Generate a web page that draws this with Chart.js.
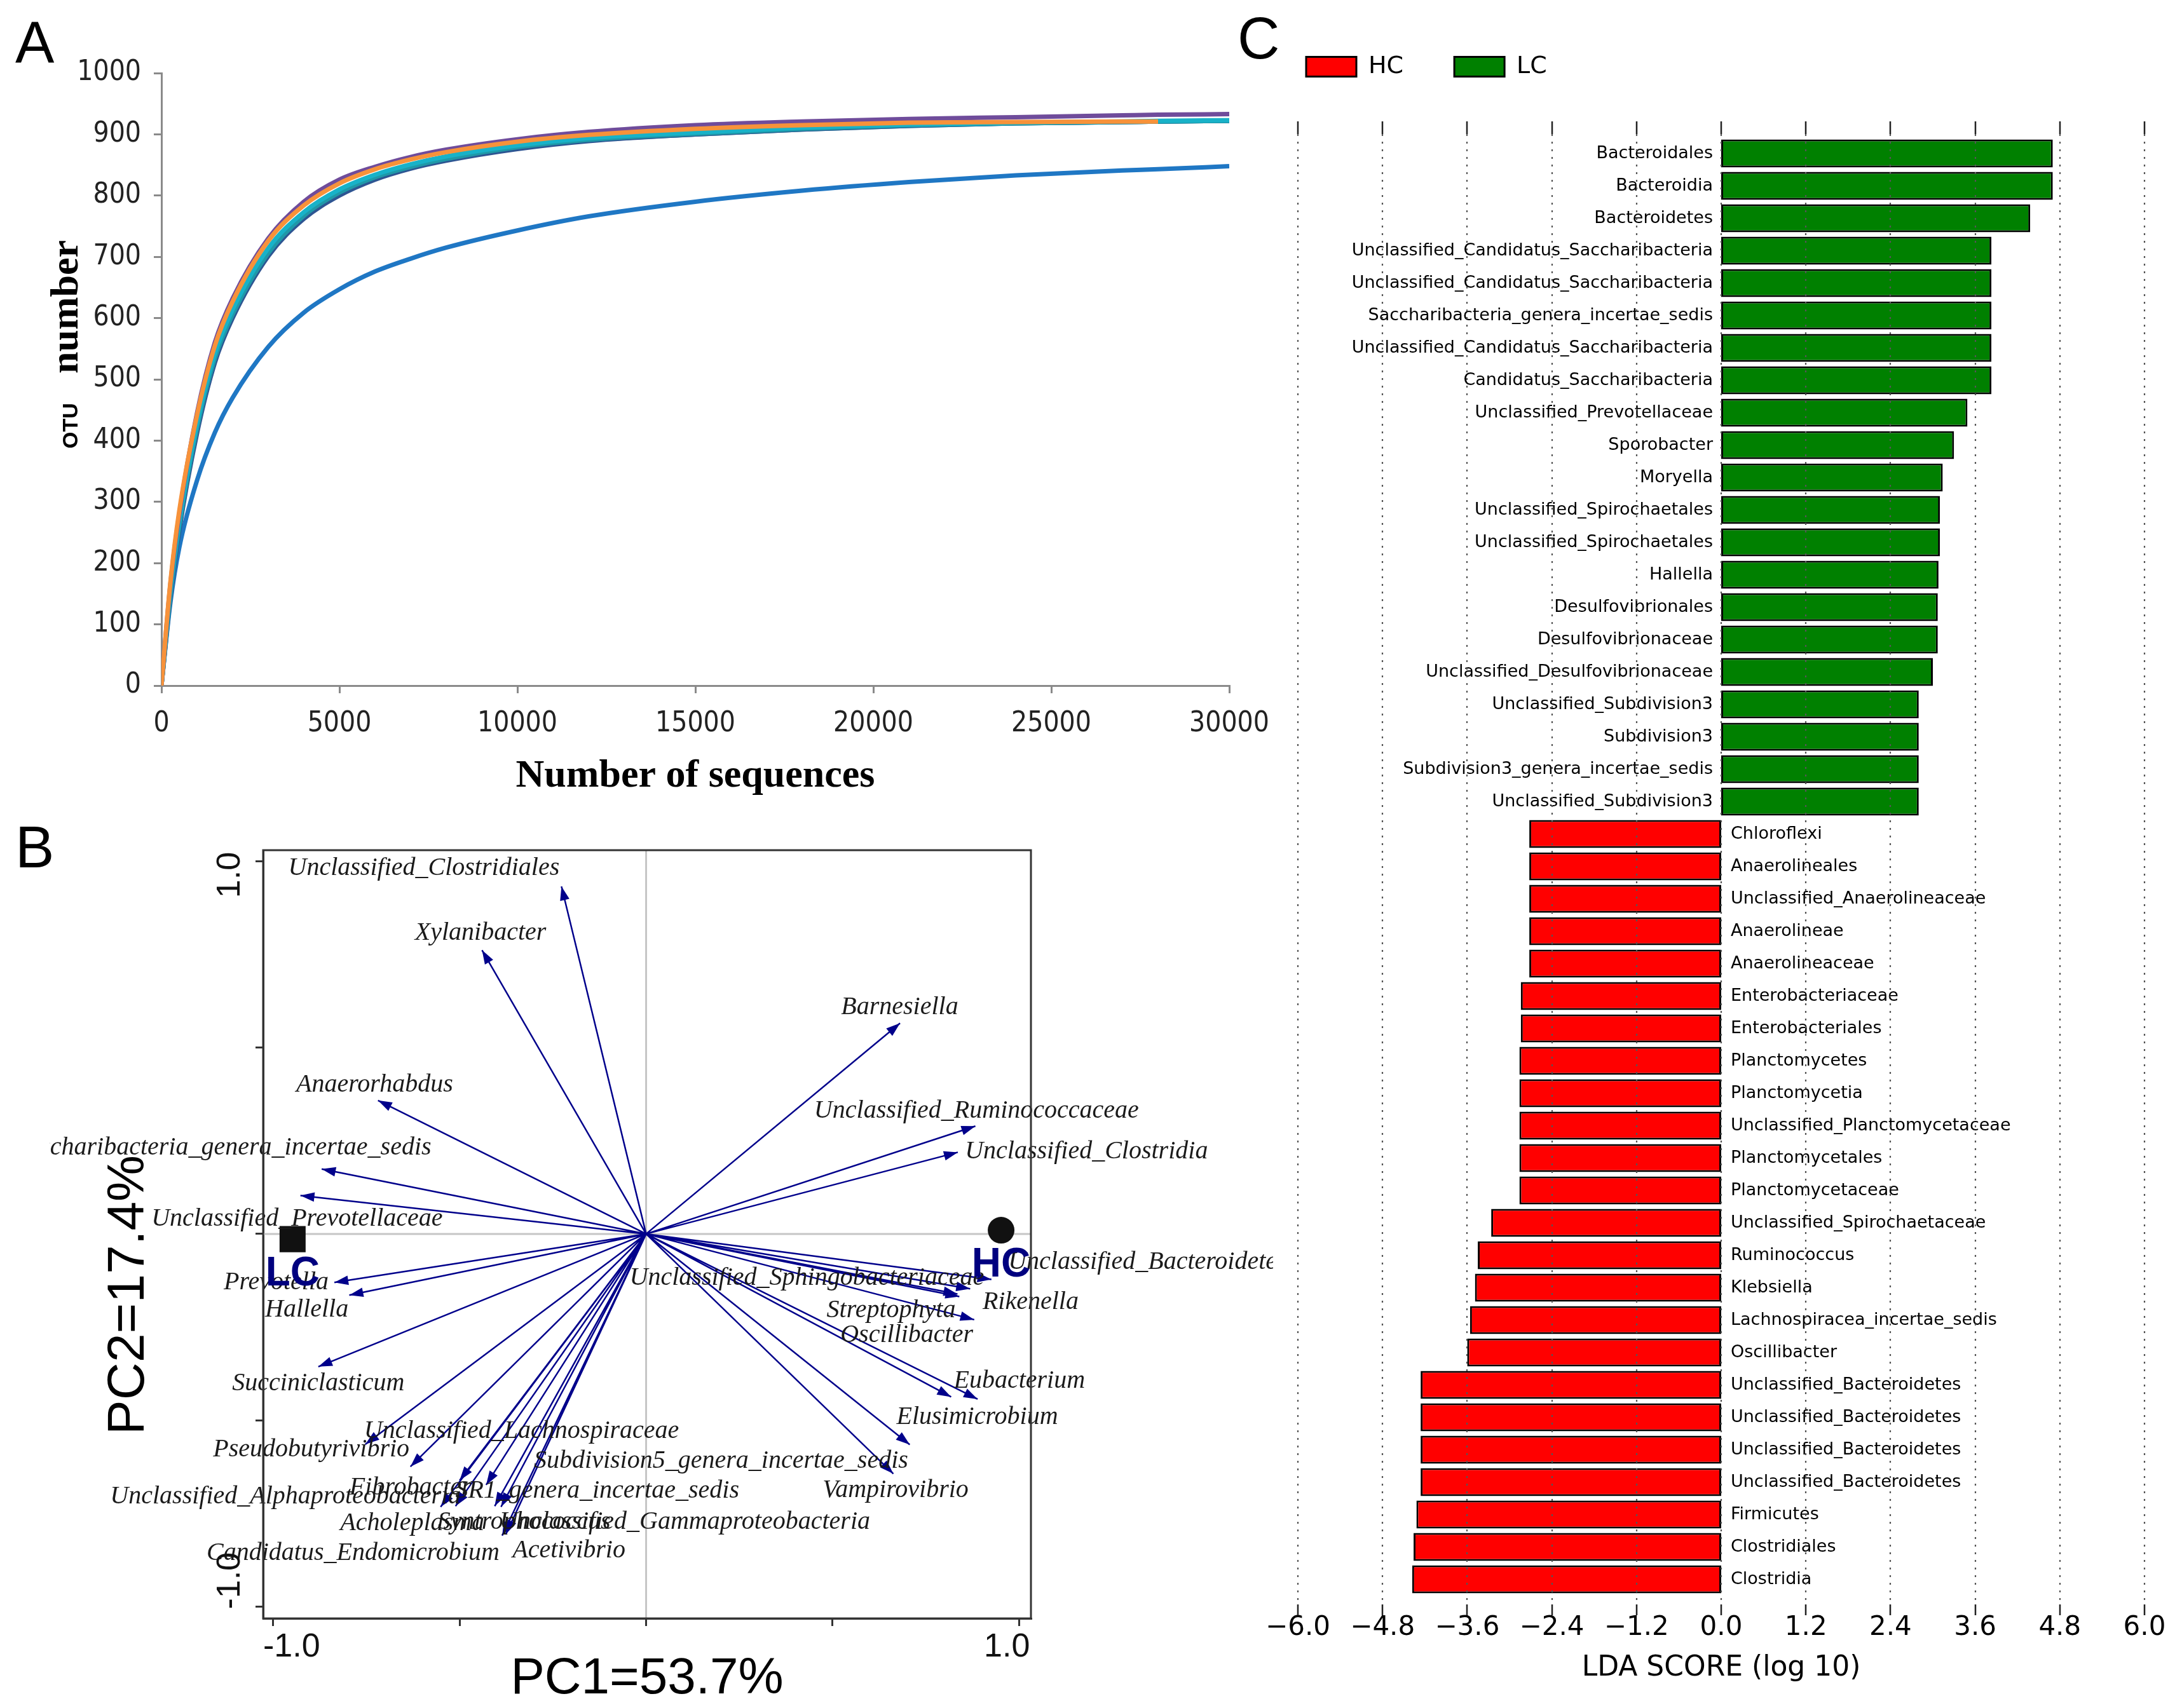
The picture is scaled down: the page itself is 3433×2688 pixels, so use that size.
<!DOCTYPE html>
<html><head><meta charset="utf-8">
<script src="https://cdn.jsdelivr.net/npm/chart.js@4.4.1/dist/chart.umd.min.js"></script>
<style>
html,body{margin:0;padding:0;background:#fff;}
body{width:3433px;height:2688px;position:relative;overflow:hidden;}
canvas{position:absolute;}
.plab{position:absolute;font-family:"Liberation Sans",Arial,sans-serif;font-size:92px;line-height:1;color:#000;}
</style></head><body>
<div class="plab" style="left:24px;top:21px">A</div>
<div class="plab" style="left:24px;top:1287px">B</div>
<div class="plab" style="left:1947px;top:14px">C</div>
<canvas id="cA" width="2030" height="1290" style="left:0;top:0"></canvas>
<canvas id="cB" width="1925" height="1398" style="left:78px;top:1290px"></canvas>
<canvas id="cC" width="1458" height="2688" style="left:1975px;top:0"></canvas>
<script>
// ---------------- Panel A data: rarefaction curves ----------------
const seqDepth = [0,250,500,1000,1500,2000,3000,4000,5000,6000,7000,8000,10000,12000,15000,18000,21000,24000,27000,28000,30000];
const otuOrange = [0,168,285,442,555,627,726,784,820,843,859,871,888,899,909,915,919,920,921,921,null];
const otuPurple = [0,165,280,445,560,632,730,790,826,847,863,875,892,904,915,921,925,928,931,932,933];
const otuCyan   = [0,155,268,428,542,614,714,773,810,834,851,864,882,894,903,911,916,919,921,922,923];
const otuTeal   = [0,148,260,420,534,606,706,767,805,830,847,860,879,891,901,909,915,918,920,921,922];
const otuNavy   = [0,142,253,412,527,600,701,762,800,826,844,857,876,889,900,908,914,918,920,921,922];
const otuTeal2  = [0,145,256,416,530,603,703,764,802,828,845,858,877,890,900,908,914,918,920,921,922];
const otuBlue   = [0,135,225,335,413,470,553,609,647,676,697,715,743,766,790,808,822,833,841,843,848];

// ---------------- Panel B data: PCA biplot ----------------
const taxaB = ['Unclassified_Clostridiales','Xylanibacter','Barnesiella','Anaerorhabdus','Unclassified_Ruminococcaceae',
 'Unclassified_Clostridia','Saccharibacteria_genera_incertae_sedis','Unclassified_Prevotellaceae','Prevotella','Hallella',
 'Succiniclasticum','Pseudobutyrivibrio','Unclassified_Lachnospiraceae','Fibrobacter','Unclassified_Alphaproteobacteria',
 'SR1_genera_incertae_sedis','Acholeplasma','Syntrophococcus','Unclassified_Gammaproteobacteria','Candidatus_Endomicrobium',
 'Acetivibrio','Subdivision5_genera_incertae_sedis','Vampirovibrio','Eubacterium','Elusimicrobium',
 'Streptophyta','Oscillibacter','Rikenella','Unclassified_Sphingobacteriaceae','Unclassified_Bacteroidetes'];
const pc1 = [-0.227,-0.440,0.681,-0.719,0.883, 0.836,-0.870,-0.927,-0.836,-0.796, -0.879,-0.753,-0.632,-0.500,-0.551,
 -0.429,-0.511,-0.406,-0.389,-0.386, -0.376,0.707,0.663,0.889,0.818, 0.880,0.840,0.869,0.835,0.926];
const pc2 = [0.932,0.761,0.565,0.358,0.289, 0.219,0.174,0.103,-0.130,-0.164, -0.356,-0.564,-0.624,-0.661,-0.732,
 -0.673,-0.730,-0.730,-0.732,-0.809, -0.805,-0.565,-0.643,-0.443,-0.437, -0.230,-0.168,-0.147,-0.161,-0.122];
const groupsB = ['LC','HC'];
const groupPC1 = [-0.948, 0.952];
const groupPC2 = [-0.014, 0.010];
// label anchor (in axis units) and alignment, presentation only
const labelAnchorB = [[-0.596,0.980,'center'],[-0.444,0.807,'center'],[0.680,0.608,'center'],[-0.728,0.400,'center'],[0.886,0.330,'center'],
 [0.855,0.220,'left'],[-0.576,0.231,'right'],[-0.936,0.040,'center'],[-0.992,-0.130,'center'],[-0.910,-0.204,'center'],
 [-0.879,-0.402,'center'],[-0.898,-0.578,'center'],[-0.334,-0.530,'center'],[-0.632,-0.680,'center'],[-0.967,-0.704,'center'],
 [-0.131,-0.690,'center'],[-0.627,-0.777,'center'],[-0.327,-0.772,'center'],[0.104,-0.772,'center'],[-0.786,-0.856,'center'],
 [-0.207,-0.849,'center'],[0.201,-0.610,'center'],[0.669,-0.687,'center'],[1.001,-0.394,'center'],[0.888,-0.491,'center'],
 [0.657,-0.206,'center'],[0.699,-0.272,'center'],[1.031,-0.184,'center'],[0.431,-0.119,'center'],[0.971,-0.076,'left']];

// ---------------- Panel C data: LEfSe LDA scores ----------------
const ldaTaxa = ['Bacteroidales','Bacteroidia','Bacteroidetes','Unclassified_Candidatus_Saccharibacteria','Unclassified_Candidatus_Saccharibacteria',
 'Saccharibacteria_genera_incertae_sedis','Unclassified_Candidatus_Saccharibacteria','Candidatus_Saccharibacteria','Unclassified_Prevotellaceae','Sporobacter',
 'Moryella','Unclassified_Spirochaetales','Unclassified_Spirochaetales','Hallella','Desulfovibrionales',
 'Desulfovibrionaceae','Unclassified_Desulfovibrionaceae','Unclassified_Subdivision3','Subdivision3','Subdivision3_genera_incertae_sedis',
 'Unclassified_Subdivision3','Chloroflexi','Anaerolineales','Unclassified_Anaerolineaceae','Anaerolineae',
 'Anaerolineaceae','Enterobacteriaceae','Enterobacteriales','Planctomycetes','Planctomycetia',
 'Unclassified_Planctomycetaceae','Planctomycetales','Planctomycetaceae','Unclassified_Spirochaetaceae','Ruminococcus',
 'Klebsiella','Lachnospiracea_incertae_sedis','Oscillibacter','Unclassified_Bacteroidetes','Unclassified_Bacteroidetes',
 'Unclassified_Bacteroidetes','Unclassified_Bacteroidetes','Firmicutes','Clostridiales','Clostridia'];
const ldaLC = [4.70,4.70,4.38,3.83,3.83,3.83,3.83,3.83,3.49,3.30,3.14,3.10,3.10,3.08,3.07,3.07,3.00,2.80,2.80,2.80,2.80,
 null,null,null,null,null,null,null,null,null,null,null,null,null,null,null,null,null,null,null,null,null,null,null,null];
const ldaHC = [null,null,null,null,null,null,null,null,null,null,null,null,null,null,null,null,null,null,null,null,null,
 -2.72,-2.72,-2.72,-2.72,-2.72,-2.84,-2.84,-2.86,-2.86,-2.86,-2.86,-2.86,-3.26,-3.45,-3.49,-3.56,-3.60,-4.26,-4.26,-4.26,-4.26,-4.32,-4.36,-4.38];

// ================= Panel A =================
const narrow = '"Liberation Sans Narrow","DejaVu Sans Condensed","Liberation Sans",sans-serif';
const curvesA = [
  {name:'S1', vals:otuOrange, color:'#f7923a'},
  {name:'S2', vals:otuPurple, color:'#6f4c9b'},
  {name:'S3', vals:otuCyan,   color:'#18b2c8'},
  {name:'S4', vals:otuTeal,   color:'#1f98a8'},
  {name:'S5', vals:otuNavy,   color:'#2e5592'},
  {name:'S6', vals:otuTeal2,  color:'#238a9a'},
  {name:'S7', vals:otuBlue,   color:'#1f77c4'}
];
const otuTitle = {id:'otuTitle', afterDraw(chart){
  const {ctx, chartArea:a} = chart;
  ctx.save();
  ctx.translate(a.left - 132, a.top + 591);
  ctx.rotate(-Math.PI/2);
  ctx.fillStyle = '#000'; ctx.textAlign = 'left'; ctx.textBaseline = 'alphabetic';
  ctx.font = 'bold 34px "Liberation Sans"';
  ctx.fillText('OTU', 0, 0);
  ctx.font = 'bold 62px "Liberation Serif"';
  ctx.fillText('number', 118, 0);
  ctx.restore();
}};
const axisGray = '#8a8a8a';
new Chart(document.getElementById('cA'), {
  type:'line',
  data:{datasets: curvesA.map(c => ({
    label:c.name,
    data: seqDepth.map((d,i) => ({x:d, y:c.vals[i]})),
    borderColor:c.color, backgroundColor:c.color, borderWidth:7, pointRadius:0,
    cubicInterpolationMode:'monotone', spanGaps:false, fill:false
  }))},
  options:{
    responsive:false, animation:false, devicePixelRatio:1,
    layout:{padding:{left:0, top:115, right:96, bottom:0}},
    plugins:{legend:{display:false}, tooltip:{enabled:false}},
    scales:{
      x:{type:'linear', min:0, max:30000,
        ticks:{stepSize:5000, autoSkip:false, maxRotation:0, padding:22, color:'#222', font:{family:narrow, size:44}, callback:v=>String(v)},
        grid:{drawOnChartArea:false, drawTicks:true, tickLength:12, color:axisGray, lineWidth:3},
        border:{display:true, color:axisGray, width:3},
        title:{display:true, text:'Number of sequences', color:'#000', font:{family:'"Liberation Serif",serif', weight:'bold', size:62, lineHeight:1}, padding:{top:0, bottom:37}},
        afterFit(s){ s.height = 211; }
      },
      y:{type:'linear', min:0, max:1000,
        ticks:{stepSize:100, padding:20, color:'#222', font:{family:narrow, size:44}, callback:v=>String(v)},
        grid:{drawOnChartArea:false, drawTicks:true, tickLength:12, color:axisGray, lineWidth:3},
        border:{display:true, color:axisGray, width:3},
        afterFit(s){ s.width = 254; }
      }
    }
  },
  plugins:[otuTitle]
});

// ================= Panel B =================
const arrowColor = '#00008b';
const shaftPts = [];
pc1.forEach((v,i) => { shaftPts.push({x:0,y:0}, {x:v, y:pc2[i]}, {x:0, y:null}); });
const biplotDecor = {
  id:'biplotDecor',
  beforeDatasetsDraw(chart){
    const {ctx, chartArea:a, scales:{x,y}} = chart;
    const x0 = x.getPixelForValue(0), y0 = y.getPixelForValue(0);
    ctx.save();
    ctx.strokeStyle = '#c6c6c6'; ctx.lineWidth = 3;
    ctx.beginPath();
    ctx.moveTo(x0, a.top); ctx.lineTo(x0, a.bottom);
    ctx.moveTo(a.left, y0); ctx.lineTo(a.right, y0);
    ctx.stroke();
    ctx.restore();
  },
  afterDatasetsDraw(chart){
    const {ctx, chartArea:a, scales:{x,y}} = chart;
    const ox = x.getPixelForValue(0), oy = y.getPixelForValue(0);
    ctx.save();
    // arrowheads
    ctx.fillStyle = arrowColor;
    pc1.forEach((v,i) => {
      const px = x.getPixelForValue(v), py = y.getPixelForValue(pc2[i]);
      const th = Math.atan2(py-oy, px-ox), L = 22, W = 7.5;
      const bx = px - L*Math.cos(th), by = py - L*Math.sin(th);
      ctx.beginPath();
      ctx.moveTo(px, py);
      ctx.lineTo(bx - W*Math.sin(th), by + W*Math.cos(th));
      ctx.lineTo(bx + W*Math.sin(th), by - W*Math.cos(th));
      ctx.closePath(); ctx.fill();
    });
    // taxa labels
    ctx.font = 'italic 40px "Liberation Serif"';
    ctx.fillStyle = '#1a1a1a'; ctx.textBaseline = 'middle';
    taxaB.forEach((t,i) => {
      const [lx, ly, al] = labelAnchorB[i];
      ctx.textAlign = al;
      ctx.fillText(t, x.getPixelForValue(lx), y.getPixelForValue(ly));
    });
    // group labels
    ctx.font = 'bold 64px "Liberation Sans"';
    ctx.fillStyle = '#00007f'; ctx.textAlign = 'center';
    groupsB.forEach((g,i) => {
      ctx.fillText(g, x.getPixelForValue(groupPC1[i]), y.getPixelForValue(groupPC2[i]) + 55);
    });
    // frame
    ctx.strokeStyle = '#333'; ctx.lineWidth = 3;
    ctx.strokeRect(a.left, a.top, a.right - a.left, a.bottom - a.top);
    // tick labels
    ctx.fillStyle = '#111'; ctx.font = '52px "Liberation Sans"'; ctx.textBaseline = 'middle'; ctx.textAlign = 'center';
    ctx.fillText('-1.0', x.getPixelForValue(-1) + 29, a.bottom + 46);
    ctx.fillText('1.0', x.getPixelForValue(1) - 19, a.bottom + 46);
    [[1,'1.0',22],[-1,'-1.0',-41]].forEach(([v,t,off]) => {
      ctx.save();
      ctx.translate(a.left - 51, y.getPixelForValue(v) + off);
      ctx.rotate(-Math.PI/2);
      ctx.fillText(t, 0, 0);
      ctx.restore();
    });
    // PC2 title
    ctx.font = '82px "Liberation Sans"'; ctx.fillStyle = '#000';
    ctx.translate(a.left - 211, a.top + 700);
    ctx.rotate(-Math.PI/2);
    ctx.fillText('PC2=17.4%', 0, 0);
    ctx.restore();
  }
};
new Chart(document.getElementById('cB'), {
  type:'scatter',
  data:{datasets:[
    {label:'taxa', data:shaftPts, showLine:true, spanGaps:false, borderColor:arrowColor, backgroundColor:arrowColor, borderWidth:2.5, pointRadius:0},
    {label:'LC', data:[{x:groupPC1[0], y:groupPC2[0]}], pointStyle:'rect', pointRadius:29, backgroundColor:'#111', borderColor:'#111', borderWidth:0},
    {label:'HC', data:[{x:groupPC1[1], y:groupPC2[1]}], pointStyle:'circle', pointRadius:21, backgroundColor:'#111', borderColor:'#111', borderWidth:0}
  ]},
  options:{
    responsive:false, animation:false, devicePixelRatio:1,
    layout:{padding:{left:0, top:48, right:381, bottom:0}},
    plugins:{legend:{display:false}, tooltip:{enabled:false}},
    scales:{
      x:{type:'linear', min:-1.027, max:1.032,
        ticks:{stepSize:0.5, includeBounds:false, autoSkip:false, maxRotation:0, callback:()=>''},
        grid:{drawOnChartArea:false, drawTicks:true, tickLength:12, color:'#333', lineWidth:3},
        border:{display:true, color:'#333', width:3},
        title:{display:true, text:'PC1=53.7%', color:'#000', font:{family:'"Liberation Sans",Arial,sans-serif', size:80, lineHeight:1}, padding:{top:0, bottom:5}},
        afterFit(s){ s.height = 141; }
      },
      y:{type:'linear', min:-1.031, max:1.029,
        ticks:{stepSize:0.5, includeBounds:false, autoSkip:false, callback:()=>''},
        grid:{drawOnChartArea:false, drawTicks:true, tickLength:12, color:'#333', lineWidth:3},
        border:{display:true, color:'#333', width:3},
        afterFit(s){ s.width = 336; }
      }
    }
  },
  plugins:[biplotDecor]
});

// ================= Panel C =================
const dejavu = '"DejaVu Sans",sans-serif';
const ldaDecor = {
  id:'ldaDecor',
  afterDatasetsDraw(chart){
    const {ctx, chartArea:a, scales:{x,y}} = chart;
    const x0 = x.getPixelForValue(0);
    ctx.save();
    ctx.font = '27px "DejaVu Sans"'; ctx.fillStyle = '#000'; ctx.textBaseline = 'middle';
    ldaTaxa.forEach((name,i) => {
      const yy = y.getPixelForValue(i);
      if (ldaLC[i] != null) { ctx.textAlign = 'right'; ctx.fillText(name, x0 - 13, yy); }
      else { ctx.textAlign = 'left'; ctx.fillText(name, x0 + 15, yy); }
    });
    ctx.strokeStyle = '#555'; ctx.lineWidth = 2.2; ctx.setLineDash([3,9]);
    x.ticks.forEach(t => {
      const px = Math.round(x.getPixelForValue(t.value));
      ctx.beginPath(); ctx.moveTo(px, a.top - 5); ctx.lineTo(px, a.bottom + 14); ctx.stroke();
    });
    ctx.setLineDash([]); ctx.strokeStyle = '#222'; ctx.lineWidth = 2.5;
    x.ticks.forEach(t => {
      const px = Math.round(x.getPixelForValue(t.value));
      ctx.beginPath();
      ctx.moveTo(px, a.top - 25); ctx.lineTo(px, a.top - 5);
      ctx.moveTo(px, a.bottom + 14); ctx.lineTo(px, a.bottom + 31);
      ctx.stroke();
    });
    ctx.restore();
  }
};
new Chart(document.getElementById('cC'), {
  type:'bar',
  data:{labels:ldaTaxa, datasets:[
    {label:'HC', data:ldaHC, backgroundColor:'#ff0000', borderColor:'#000', borderWidth:3, borderSkipped:false},
    {label:'LC', data:ldaLC, backgroundColor:'#008000', borderColor:'#000', borderWidth:3, borderSkipped:false}
  ]},
  options:{
    indexAxis:'y', responsive:false, animation:false, devicePixelRatio:1, skipNull:true,
    datasets:{bar:{categoryPercentage:1, barPercentage:0.86}},
    layout:{padding:{left:0, top:6, right:0, bottom:0}},
    plugins:{
      legend:{display:true, position:'top', align:'start',
        labels:{boxWidth:79, boxHeight:31, padding:80, color:'#000', font:{family:dejavu, size:38}}},
      subtitle:{display:true, text:'', weight:500, padding:0, font:{size:82, lineHeight:1}},
      tooltip:{enabled:false}
    },
    scales:{
      x:{type:'linear', min:-6, max:6,
        ticks:{stepSize:1.2, autoSkip:false, maxRotation:0, padding:26, color:'#000', font:{family:dejavu, size:42},
          callback:v => (v < -1e-9 ? '\u2212' : '') + Math.abs(v).toFixed(1)},
        grid:{display:false, drawTicks:false},
        border:{display:false},
        title:{display:true, text:'LDA SCORE (log 10)', color:'#000', font:{family:dejavu, size:44, lineHeight:1.2}, padding:{top:0, bottom:36}},
        afterFit(s){ s.height = 177; s.paddingLeft = 67; s.paddingRight = 59; }
      },
      y:{display:false}
    }
  },
  plugins:[ldaDecor]
});
</script>
</body></html>
